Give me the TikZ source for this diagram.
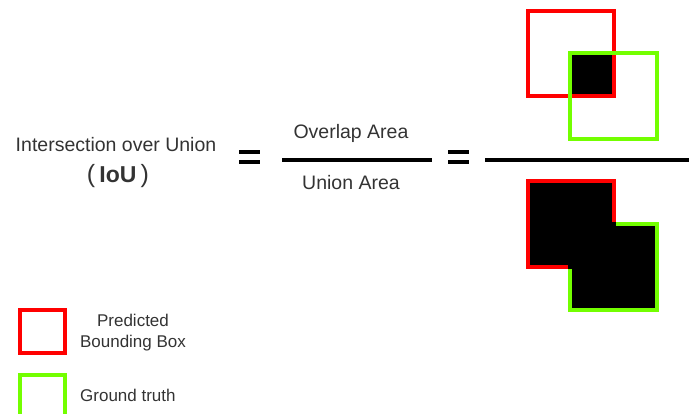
\documentclass[tikz,border=0pt]{standalone}
\usepackage{fontspec}
\setmainfont{Liberation Sans}
\definecolor{predred}{HTML}{FF0000}
\definecolor{gtgreen}{HTML}{73FF00}
\definecolor{txtgray}{HTML}{333333}
\begin{document}
\begin{tikzpicture}[x=1pt,y=-1pt,
  predbox/.style={draw=predred,line width=4pt},
  gtbox/.style={draw=gtgreen,line width=4pt},
  lbl/.style={inner sep=0pt,text=txtgray,font=\fontsize{19.5}{23}\selectfont},
  leg/.style={inner sep=0pt,text=txtgray,font=\fontsize{17}{21}\selectfont},
  eqbar/.style={line width=3.5pt,black},
  fracbar/.style={line width=4.5pt,black}]
\useasboundingbox (0,0) rectangle (689,414);
\clip (0,0) rectangle (689,414);
% left text
\node[lbl,anchor=base] (iou) at (116,152) {Intersection over Union};
\node[lbl,anchor=base,font=\fontsize{25}{29}\selectfont] (iouabbr) at (118,183) {(\,{\fontsize{23}{27}\selectfont\bfseries IoU}\,)};
% first equals
\coordinate (e1a) at (239,152); \coordinate (e1b) at (260,152);
\coordinate (e1c) at (239,162); \coordinate (e1d) at (260,162);
\draw[eqbar] (e1a) -- (e1b); \draw[eqbar] (e1c) -- (e1d);
% text fraction
\coordinate (f1a) at (282,160); \coordinate (f1b) at (432,160);
\draw[fracbar] (f1a) -- (f1b);
\node[lbl,anchor=base] (num) at (351,139) {Overlap Area};
\node[lbl,anchor=base] (den) at (351,190) {Union Area};
% second equals
\coordinate (e2a) at (448,152); \coordinate (e2b) at (469,152);
\coordinate (e2c) at (448,162); \coordinate (e2d) at (469,162);
\draw[eqbar] (e2a) -- (e2b); \draw[eqbar] (e2c) -- (e2d);
% picture fraction bar
\coordinate (f2a) at (485,160); \coordinate (f2b) at (695,160);
\draw[fracbar] (f2a) -- (f2b);
% numerator: intersection
\fill[black] (570,53) rectangle (614,96);
\draw[predbox] (528,11) rectangle (614,96);
\draw[gtbox] (570,53) rectangle (657,139);
% denominator: union
\draw[predbox,fill=black] (528,181) rectangle (614,267);
\draw[gtbox,fill=black] (570,224) rectangle (657,310);
\draw[black,fill=black,line width=4pt] (570,224) rectangle (614,267);
% legend
\draw[predbox] (20,310) rectangle (65,353);
\node[leg,align=center,anchor=center] (predlbl) at (133,333) {Predicted\\Bounding Box};
\draw[gtbox] (20,375) rectangle (65,420);
\node[leg,anchor=base west] (gtlbl) at (80,402) {Ground truth};
\end{tikzpicture}
\end{document}
